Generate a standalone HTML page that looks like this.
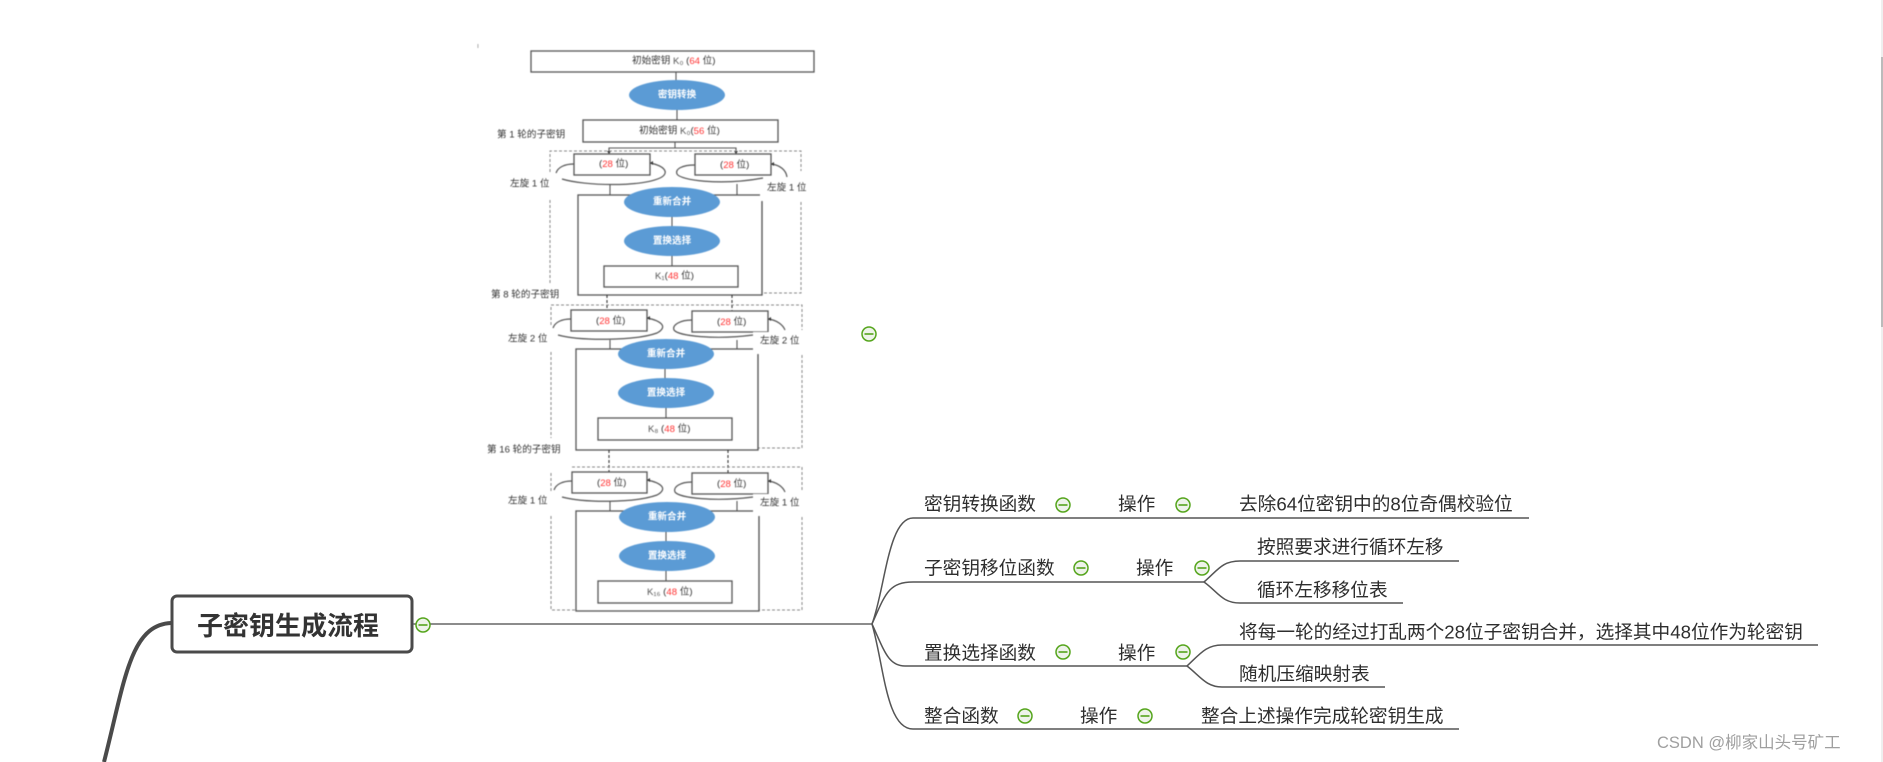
<!DOCTYPE html>
<html><head><meta charset="utf-8">
<style>
html,body{margin:0;padding:0;background:#fff;width:1883px;height:762px;overflow:hidden}
svg{display:block}
text{font-family:"Liberation Sans","Noto Sans CJK SC",sans-serif}
.m{font-size:18.67px;fill:#2e2e2e;dominant-baseline:central}
.d{font-size:9.6px;fill:#333;dominant-baseline:central}
.e{font-size:9.6px;fill:#fff;font-weight:bold;text-anchor:middle;dominant-baseline:central}
.r{fill:#f33}
.b{fill:#fff;stroke:#555;stroke-width:1.3}
.l{fill:none;stroke:#555;stroke-width:1.1}
.o{fill:none;stroke:#555;stroke-width:1.2}
.dash{fill:none;stroke:#888;stroke-width:1;stroke-dasharray:3 2}
.dd{fill:none;stroke:#333;stroke-width:1.1;stroke-dasharray:3 2}
.bl{fill:#5b9bd5}
.c{fill:none;stroke:#555;stroke-width:1.5}
.gc{fill:#eef3ea;stroke:#55a51c;stroke-width:1.5}
.gm{stroke:#55a51c;stroke-width:1.6}
</style></head><body>
<svg width="1883" height="762" viewBox="0 0 1883 762" xmlns="http://www.w3.org/2000/svg">
<rect x="1881" y="0" width="2" height="762" fill="#efefef"/>
<rect x="1881" y="57" width="2" height="270" fill="#bbb"/>

<g style="filter:blur(0.6px)">
<rect x="477.500" y="44" width="0.8" height="4" fill="#999"/>
<!-- head -->
<rect class="b" x="531" y="51" width="283" height="21"/>
<text class="d" x="632" y="61">初始密钥 <tspan fill="#555">K₀</tspan> (<tspan class="r">64</tspan> 位)</text>
<path class="l" d="M676 72V80M677 110V120"/>
<ellipse class="bl" cx="677" cy="95" rx="48" ry="15"/>
<text class="e" x="677" y="95">密钥转换</text>
<rect class="b" x="583" y="120" width="195" height="22"/>
<text class="d" x="639" y="131">初始密钥 <tspan fill="#555">K₀</tspan>(<tspan class="r">56</tspan> 位)</text>
<text class="d" x="497" y="135">第 1 轮的子密钥</text>
<path class="l" d="M675 142V148M609 154V148H736V154"/>
<path d="M607 151h4l-2 3zM734 151h4l-2 3z" fill="#333"/>

<!-- block 1 -->
<path class="dash" d="M550 172V151H801V171M801 202V293H762M550 200V283"/>
<rect class="b" x="578" y="195" width="184" height="100" />
<rect x="760" y="183" width="6" height="18" fill="#fff"/>
<path class="l" d="M762 202V295"/>
<rect class="b" x="574" y="154" width="76" height="21"/>
<rect class="b" x="695" y="154" width="76" height="21"/>
<text class="d" x="599" y="164">(<tspan class="r">28</tspan> 位)</text>
<text class="d" x="720" y="165">(<tspan class="r">28</tspan> 位)</text>
<path class="o" d="M556 173C558 167 565 164 574 164M562 179C585 186 640 187 660 178C670 173 665 166 650 163"/>
<path class="o" d="M695 165C682 165 675 169 677 174C680 180 720 186 763 178M771 164C780 165 786 170 787 177"/>
<path d="M650 163l3-2v4zM771 164l3-2v4z" fill="#333"/>
<path class="l" d="M610 184V195M737 184V195"/>
<text class="d" x="510" y="184">左旋 1 位</text>
<text class="d" x="767" y="188">左旋 1 位</text>
<ellipse class="bl" cx="672" cy="202" rx="48" ry="15"/>
<text class="e" x="672" y="202">重新合并</text>
<path class="l" d="M672 217V226M672 256V266"/>
<ellipse class="bl" cx="672" cy="241" rx="48" ry="15"/>
<text class="e" x="672" y="241">置换选择</text>
<rect class="b" x="604" y="266" width="134" height="21"/>
<text class="d" x="655" y="276"><tspan fill="#555">K₁</tspan>(<tspan class="r">48</tspan> 位)</text>
<text class="d" x="491" y="295">第 8 轮的子密钥</text>
<path class="dd" d="M607 295V310M732 295V311"/>

<!-- block 2 -->
<path class="dash" d="M551 325V305H802V330M802 355V448H758M551 352V438"/>
<rect class="b" x="576" y="349" width="182" height="101"/>
<rect x="753" y="334" width="8" height="20" fill="#fff"/>
<path class="l" d="M758 355V450"/>
<rect class="b" x="571" y="310" width="76" height="21"/>
<rect class="b" x="692" y="311" width="76" height="21"/>
<rect x="753" y="332" width="18" height="3" fill="#fff"/>
<text class="d" x="596" y="321">(<tspan class="r">28</tspan> 位)</text>
<text class="d" x="717" y="322">(<tspan class="r">28</tspan> 位)</text>
<path class="o" d="M553 328C555 322 562 319 571 319M558 335C580 341 635 341 657 333C668 327 662 321 647 318"/>
<path class="o" d="M692 320C680 320 672 325 674 330C678 336 715 340 753 335M768 319C777 320 783 325 785 330"/>
<path d="M647 318l3-2v4zM768 319l3-2v4z" fill="#333"/>
<path class="l" d="M610 340V349M737 340V349"/>
<text class="d" x="508" y="339">左旋 2 位</text>
<text class="d" x="760" y="341">左旋 2 位</text>
<ellipse class="bl" cx="666" cy="354" rx="48" ry="15"/>
<text class="e" x="666" y="354">重新合并</text>
<path class="l" d="M665 369V378M666 408V418"/>
<ellipse class="bl" cx="666" cy="393" rx="48" ry="15"/>
<text class="e" x="666" y="393">置换选择</text>
<rect class="b" x="598" y="418" width="134" height="22"/>
<text class="d" x="648" y="429"><tspan fill="#555">K₈</tspan> (<tspan class="r">48</tspan> 位)</text>
<text class="d" x="487" y="450">第 16 轮的子密钥</text>
<path class="dd" d="M609 450V472M728 450V473"/>

<!-- block 3 -->
<path class="dash" d="M551 491V473M572 467H802V490M802 517V610H759M551 516V610H576"/>
<rect class="b" x="576" y="511" width="183" height="100"/>
<rect x="753" y="495" width="8" height="21" fill="#fff"/>
<path class="l" d="M759 517V611"/>
<rect class="b" x="572" y="472" width="75" height="21"/>
<rect class="b" x="692" y="473" width="76" height="21"/>
<rect x="753" y="494" width="18" height="3" fill="#fff"/>
<text class="d" x="597" y="483">(<tspan class="r">28</tspan> 位)</text>
<text class="d" x="717" y="484">(<tspan class="r">28</tspan> 位)</text>
<path class="o" d="M554 490C556 484 563 481 572 481M562 497C585 503 635 503 657 495C668 489 662 483 647 480"/>
<path class="o" d="M692 482C680 482 673 487 675 492C679 498 715 502 753 497M768 481C777 482 783 487 785 492"/>
<path d="M647 480l3-2v4zM768 481l3-2v4z" fill="#333"/>
<path class="l" d="M610 501V511M737 501V511"/>
<text class="d" x="508" y="501">左旋 1 位</text>
<text class="d" x="760" y="503">左旋 1 位</text>
<ellipse class="bl" cx="667" cy="517" rx="48" ry="15"/>
<text class="e" x="667" y="517">重新合并</text>
<path class="l" d="M666 532V541M666 571V581"/>
<ellipse class="bl" cx="667" cy="556" rx="48" ry="15"/>
<text class="e" x="667" y="556">置换选择</text>
<rect class="b" x="598" y="581" width="134" height="22"/>
<text class="d" x="647" y="592"><tspan fill="#555">K₁₆</tspan> (<tspan class="r">48</tspan> 位)</text>
</g>

<!-- mind map -->
<path d="M171 623C130 625 125 680 104 762" fill="none" stroke="#4a4a4a" stroke-width="4"/>
<rect x="172" y="596" width="240" height="56" rx="5" fill="#fff" stroke="#4a4a4a" stroke-width="3"/>
<text x="197" y="626" font-size="26" font-weight="bold" fill="#333" dominant-baseline="central">子密钥生成流程</text>
<path d="M413 624H872" stroke="#666" stroke-width="1.5" fill="none"/>
<circle class="gc" cx="423" cy="625" r="7"/><path class="gm" d="M418.500 625h9"/>

<path class="c" d="M872 624C885 590 888 518 913 518H1529"/>
<path class="c" d="M872 624C885 595 888 582 913 582H1204"/>
<path class="c" d="M872 624C884 650 888 666 905 666H1187"/>
<path class="c" d="M872 624C884 665 886 729 913 729H1459"/>
<path class="c" d="M1204 582C1218 570 1222 561 1240 561H1459"/>
<path class="c" d="M1204 582C1218 592 1222 603 1240 603H1403"/>
<path class="c" d="M1187 666C1200 654 1206 645 1222 645H1818"/>
<path class="c" d="M1187 666C1200 676 1206 687 1222 687H1385"/>

<text class="m" x="924" y="504">密钥转换函数</text>
<text class="m" x="1118" y="504">操作</text>
<text class="m" x="1239" y="504">去除64位密钥中的8位奇偶校验位</text>
<text class="m" x="924" y="568">子密钥移位函数</text>
<text class="m" x="1136" y="568">操作</text>
<text class="m" x="1257" y="547">按照要求进行循环左移</text>
<text class="m" x="1257" y="590">循环左移移位表</text>
<text class="m" x="924" y="653">置换选择函数</text>
<text class="m" x="1118" y="653">操作</text>
<text class="m" x="1239" y="632">将每一轮的经过打乱两个28位子密钥合并，选择其中48位作为轮密钥</text>
<text class="m" x="1239" y="674">随机压缩映射表</text>
<text class="m" x="924" y="716">整合函数</text>
<text class="m" x="1080" y="716">操作</text>
<text class="m" x="1201" y="716">整合上述操作完成轮密钥生成</text>

<g>
<circle class="gc" cx="869" cy="334" r="7"/><path class="gm" d="M864.500 334h9"/>
<circle class="gc" cx="1063" cy="505" r="7"/><path class="gm" d="M1058.500 505h9"/>
<circle class="gc" cx="1183" cy="505" r="7"/><path class="gm" d="M1178.500 505h9"/>
<circle class="gc" cx="1081" cy="568" r="7"/><path class="gm" d="M1076.500 568h9"/>
<circle class="gc" cx="1202" cy="568" r="7"/><path class="gm" d="M1197.500 568h9"/>
<circle class="gc" cx="1063" cy="652" r="7"/><path class="gm" d="M1058.500 652h9"/>
<circle class="gc" cx="1183" cy="652" r="7"/><path class="gm" d="M1178.500 652h9"/>
<circle class="gc" cx="1025" cy="716" r="7"/><path class="gm" d="M1020.500 716h9"/>
<circle class="gc" cx="1145" cy="716" r="7"/><path class="gm" d="M1140.500 716h9"/>
</g>
<text x="1657" y="743" font-size="16.500" fill="#9f9f9f" dominant-baseline="central">CSDN @柳家山头号矿工</text>
</svg>
</body></html>
